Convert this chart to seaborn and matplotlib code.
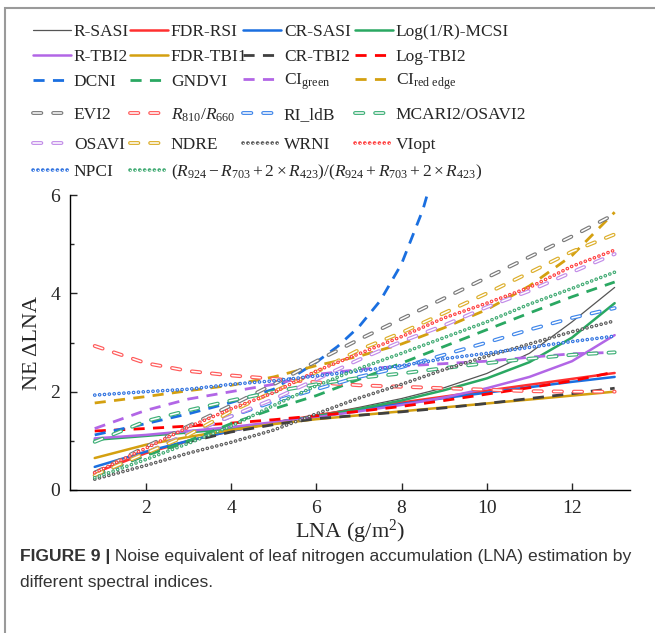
import matplotlib
matplotlib.use("Agg")
import matplotlib.pyplot as plt
import seaborn as sns
from matplotlib.patches import Rectangle

# LNA sample points (g/m2)
lna = [0.8, 2, 3, 4, 5, 6, 7, 8, 9, 10, 11, 12, 13]
lna_dcni = [0.8, 2, 3, 4, 5, 6, 6.5, 7, 7.5, 8, 8.5, 8.65]

# noise equivalent of LNA for each index
r_sasi = [0.38, 0.75, 1.0, 1.2, 1.37, 1.52, 1.68, 1.86, 2.08, 2.37, 2.78, 3.42, 4.12]
fdr_rsi = [0.35, 0.75, 1.0, 1.2, 1.37, 1.52, 1.65, 1.78, 1.9, 2.02, 2.14, 2.26, 2.38]
cr_sasi = [0.47, 0.78, 1.0, 1.2, 1.37, 1.5, 1.63, 1.75, 1.87, 1.98, 2.09, 2.2, 2.30]
log_mcsi = [1.02, 1.1, 1.17, 1.25, 1.37, 1.5, 1.65, 1.82, 2.03, 2.27, 2.6, 3.1, 3.80]
r_tbi2 = [1.05, 1.12, 1.2, 1.28, 1.38, 1.48, 1.6, 1.73, 1.88, 2.07, 2.3, 2.62, 3.15]
fdr_tbi1 = [0.65, 0.92, 1.08, 1.22, 1.34, 1.44, 1.52, 1.6, 1.68, 1.76, 1.84, 1.92, 2.0]
cr_tbi2 = [0.3, 0.72, 0.98, 1.18, 1.33, 1.45, 1.52, 1.59, 1.67, 1.76, 1.86, 1.96, 2.07]
log_tbi2 = [1.2, 1.25, 1.3, 1.36, 1.43, 1.51, 1.6, 1.7, 1.82, 1.95, 2.08, 2.22, 2.40]
dcni = [1.12, 1.35, 1.55, 1.78, 2.05, 2.6, 2.92, 3.32, 3.85, 4.6, 5.7, 6.15]
gndvi = [0.3, 0.7, 1.0, 1.35, 1.65, 1.92, 2.25, 2.58, 2.92, 3.26, 3.6, 3.93, 4.23]
ci_green = [1.25, 1.62, 1.85, 2.0, 2.15, 2.35, 2.45, 2.52, 2.57, 2.62, 2.7, 2.77, 2.8]
ci_red_edge = [1.77, 1.9, 2.02, 2.13, 2.3, 2.53, 2.72, 2.97, 3.3, 3.67, 4.15, 4.77, 5.65]
evi2 = [0.35, 0.88, 1.3, 1.72, 2.15, 2.62, 3.06, 3.48, 3.9, 4.32, 4.74, 5.16, 5.61]
r810_r660 = [2.93, 2.58, 2.42, 2.33, 2.26, 2.19, 2.13, 2.1, 2.07, 2.04, 2.01, 2.0, 2.0]
ri_ldb = [0.3, 0.75, 1.15, 1.5, 1.8, 2.05, 2.3, 2.5, 2.75, 3.0, 3.26, 3.5, 3.7]
mcari2_osavi2 = [0.98, 1.4, 1.62, 1.82, 2.0, 2.15, 2.28, 2.37, 2.48, 2.58, 2.67, 2.75, 2.80]
osavi = [0.3, 0.75, 1.15, 1.5, 1.85, 2.25, 2.65, 3.02, 3.35, 3.72, 4.05, 4.43, 4.8]
ndre = [0.3, 0.75, 1.12, 1.6, 2.0, 2.4, 2.85, 3.2, 3.6, 4.0, 4.42, 4.85, 5.2]
wrni = [0.22, 0.5, 0.75, 0.97, 1.22, 1.55, 1.87, 2.15, 2.45, 2.72, 2.97, 3.22, 3.44]
viopt = [0.35, 0.85, 1.28, 1.65, 1.98, 2.42, 2.77, 3.12, 3.5, 3.8, 4.12, 4.55, 4.88]
npci = [1.93, 2.0, 2.05, 2.15, 2.22, 2.32, 2.42, 2.53, 2.67, 2.78, 2.9, 3.02, 3.13]
r924_index = [0.25, 0.62, 0.95, 1.3, 1.72, 2.12, 2.47, 2.78, 3.1, 3.42, 3.78, 4.1, 4.43]

GRAY, RED, BLUE, GREEN = "#555555", "#ff3030", "#1a6fe0", "#2aa862"
PURPLE, GOLD = "#b266e6", "#d4a010"

series = [
    ("R-SASI", lna, r_sasi, GRAY, "thin"),
    ("FDR-RSI", lna, fdr_rsi, RED, "solid"),
    ("CR-SASI", lna, cr_sasi, BLUE, "solid"),
    ("Log(1/R)-MCSI", lna, log_mcsi, GREEN, "solid"),
    ("R-TBI2", lna, r_tbi2, PURPLE, "solid"),
    ("FDR-TBI1", lna, fdr_tbi1, GOLD, "solid"),
    ("CR-TBI2", lna, cr_tbi2, "#404040", "dash"),
    ("Log-TBI2", lna, log_tbi2, "#ff0000", "dash"),
    ("DCNI", lna_dcni, dcni, BLUE, "dash"),
    ("GNDVI", lna, gndvi, GREEN, "dash"),
    ("CI$_{\\mathrm{green}}$", lna, ci_green, PURPLE, "dash"),
    ("CI$_{\\mathrm{red\\ edge}}$", lna, ci_red_edge, GOLD, "dash"),
    ("EVI2", lna, evi2, "#7a7a7a", "hollow"),
    ("$R_{810}/R_{660}$", lna, r810_r660, "#ff5a5a", "hollow"),
    ("RI_ldB", lna, ri_ldb, "#3f86ea", "hollow"),
    ("MCARI2/OSAVI2", lna, mcari2_osavi2, "#3fb078", "hollow"),
    ("OSAVI", lna, osavi, "#c28ce8", "hollow"),
    ("NDRE", lna, ndre, "#dcae2a", "hollow"),
    ("WRNI", lna, wrni, "#5a5a5a", "dot"),
    ("VIopt", lna, viopt, "#ff4040", "dot"),
    ("NPCI", lna, npci, "#2f72e0", "dot"),
    ("$(R_{924}-R_{703}+2\\times R_{423})/(R_{924}+R_{703}+2\\times R_{423})$",
     lna, r924_index, "#3faa72", "dot"),
]

sns.set_style("ticks")
plt.rcParams["font.family"] = ["Liberation Serif", "DejaVu Serif"]
plt.rcParams["mathtext.fontset"] = "custom"
plt.rcParams["mathtext.rm"] = "Liberation Serif"
plt.rcParams["mathtext.it"] = "Liberation Serif:italic"
plt.rcParams["lines.scale_dashes"] = False

fig = plt.figure(figsize=(6.55, 6.33), dpi=100)
ax = fig.add_axes([70 / 655, 1 - 490 / 633, 560 / 655, 295 / 633])


def draw(x, y, color, kind):
    if kind in ("solid", "thin"):
        sns.lineplot(x=x, y=y, ax=ax, color=color, linewidth=0.9 if kind == "thin" else 1.8,
                     legend=False)
        return ax.lines[-1]
    if kind == "dash":
        sns.lineplot(x=x, y=y, ax=ax, color=color, linewidth=2.0, linestyle=(0, (8, 6)),
                     legend=False)
        return ax.lines[-1]
    if kind == "hollow":
        pat = (0, (6, 8.5))
        sns.lineplot(x=x, y=y, ax=ax, color=color, linewidth=2.8, linestyle=pat,
                     dash_capstyle="round", legend=False)
        outer = ax.lines[-1]
        sns.lineplot(x=x, y=y, ax=ax, color="white", linewidth=1.1, linestyle=pat,
                     dash_capstyle="round", legend=False)
        return (outer, ax.lines[-1])
    pat = (0, (0.1, 3.4))
    sns.lineplot(x=x, y=y, ax=ax, color=color, linewidth=2.6, linestyle=pat,
                 dash_capstyle="round", legend=False)
    outer = ax.lines[-1]
    sns.lineplot(x=x, y=y, ax=ax, color="white", linewidth=1.0, linestyle=pat,
                 dash_capstyle="round", legend=False)
    return (outer, ax.lines[-1])


handles = []
for label, x, y, color, kind in series:
    handles.append(draw(x, y, color, kind))

ax.set_xlim(0.22, 13.36)
ax.set_ylim(0, 6)
ax.set_xticks([2, 4, 6, 8, 10, 12])
ax.set_yticks([0, 2, 4, 6])
ax.set_yticks([1, 3, 5], minor=True)
ax.tick_params(direction="in", length=5, width=1, labelsize=14, pad=7)
ax.tick_params(which="minor", direction="in", length=3, width=1)
ax.tick_params(axis="x", pad=7)
for s in ["top", "right"]:
    ax.spines[s].set_visible(False)
for s in ["left", "bottom"]:
    ax.spines[s].set_color("black")
    ax.spines[s].set_linewidth(1)
ax.set_xlabel("LNA (g/m$^{2}$)", fontsize=16, labelpad=1)
ax.set_ylabel("NE \u0394LNA", fontsize=16, labelpad=6)

# legend: 4 columns laid out row by row
col_x = [33, 130, 243, 355]
row_y = [32, 57, 82, 115, 145, 172]
for i, (h, (label, *_)) in enumerate(zip(handles, series)):
    r, c = divmod(i, 4)
    fig.legend([h], [label], loc="center left",
               bbox_to_anchor=(col_x[c] / 655, 1 - row_y[r] / 633),
               frameon=False, fontsize=12.5, handlelength=2.2, handletextpad=0.15,
               borderpad=0, borderaxespad=0)

# caption
cap = fig.text(20 / 655, 1 - 556 / 633, "FIGURE 9 |", fontsize=12.6, weight="bold",
               family="Liberation Sans", color="#333333", va="center")
ax.annotate(" Noise equivalent of leaf nitrogen accumulation (LNA) estimation by",
            xy=(1, 0), xycoords=cap, va="bottom", fontsize=12.6,
            family="Liberation Sans", color="#333333")
fig.text(20 / 655, 1 - 582 / 633, "different spectral indices.", fontsize=12.6,
         family="Liberation Sans", color="#333333", va="center")

fig.patches.append(Rectangle((5 / 655, -0.1), 1.2, 1.1 - 8 / 633, transform=fig.transFigure,
                             fill=False, ec="#9a9a9a", lw=1.5))

fig.savefig("out.png", dpi=100)
